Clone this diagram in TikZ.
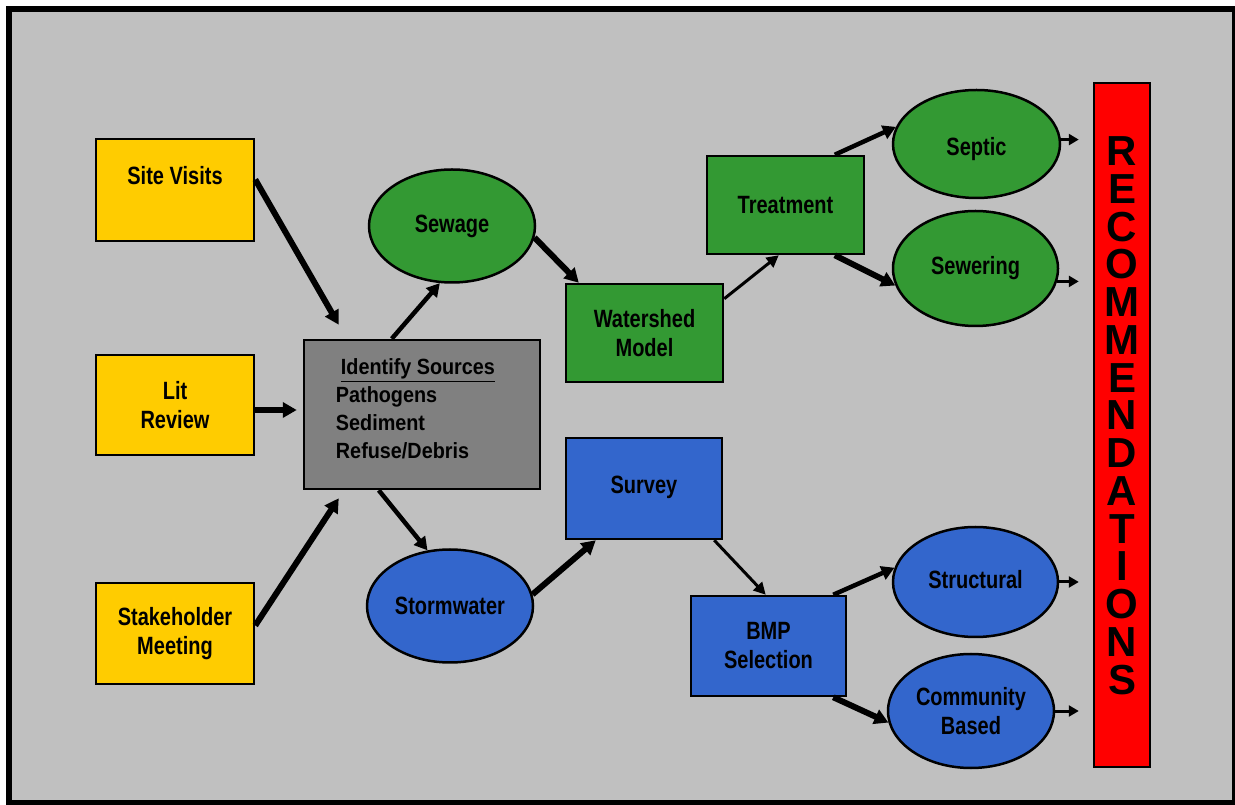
\documentclass[tikz,border=0pt]{standalone}
\usepackage{fontspec}
\setmainfont{Liberation Sans}
\newfontfamily\narf{Liberation Sans}[FakeStretch=0.8]
\newfontfamily\narid{Liberation Sans}[FakeStretch=0.9]
\usetikzlibrary{arrows.meta,shapes.geometric,calc}
\definecolor{bgc}{HTML}{C0C0C0}
\definecolor{yelc}{HTML}{FFCC00}
\definecolor{grnc}{HTML}{339933}
\definecolor{bluc}{HTML}{3366CC}
\definecolor{gryc}{HTML}{808080}
\definecolor{redc}{HTML}{FF0000}
\begin{document}
\begin{tikzpicture}[x=1pt,y=1pt,
  lbl/.style={font=\narf\bfseries\fontsize{25}{29}\selectfont, align=center},
  boxn/.style={lbl, draw=black, line width=2.5pt, rectangle, inner sep=0pt},
  elln/.style={lbl, draw=black, line width=2.5pt, ellipse, inner sep=0pt},
  arr/.style={line width=6pt, -{Triangle[length=14pt,width=15pt]}},
  arrm/.style={line width=4.5pt, -{Triangle[length=13pt,width=14pt]}},
  arrt/.style={line width=3pt, -{Triangle[length=12pt,width=12pt]}},
  arrs/.style={line width=3pt, -{Triangle[length=10pt,width=11pt]}},
  recl/.style={font={\bfseries\fontsize{42}{37.75}\selectfont\lineskiplimit=-100pt}, align=center, inner sep=0pt}
]
\useasboundingbox (0,0) rectangle (1235,804);
\fill[white] (0,0) rectangle (1235,804);
\draw[line width=6pt, fill=bgc] (9,1) rectangle (1235,795);

% yellow boxes
\node[boxn, fill=yelc, minimum width=158, minimum height=102, text depth=30pt] (sv) at (175,614) {Site Visits};
\node[boxn, fill=yelc, minimum width=158, minimum height=100] (lr) at (175,399) {Lit\\Review};
\node[boxn, fill=yelc, minimum width=158, minimum height=101] (sm) at (175,170.5) {Stakeholder\\Meeting};

% identify sources
\node[boxn, fill=gryc, minimum width=236, minimum height=149] (id) at (422,389.5) {};
\node[anchor=north west, align=left, inner sep=0pt, font=\narid\bfseries\fontsize{22}{28}\selectfont] (idt) at ([shift={(33,-20)}]id.north west)
  {\hspace*{5pt}\underline{Identify Sources}\\Pathogens\\Sediment\\Refuse/Debris};

% ellipses left
\node[elln, fill=grnc, minimum width=166, minimum height=113] (sew) at (452,578) {Sewage};
\node[elln, fill=bluc, minimum width=166, minimum height=113] (sto) at (450,198) {Stormwater};

% middle boxes
\node[boxn, fill=grnc, minimum width=157, minimum height=98] (wm) at (644.5,471) {Watershed\\Model};
\node[boxn, fill=grnc, minimum width=157, minimum height=98] (tr) at (785.5,599) {Treatment};
\node[boxn, fill=bluc, minimum width=156, minimum height=101, text depth=8pt] (sur) at (644,315.5) {Survey};
\node[boxn, fill=bluc, minimum width=155, minimum height=100] (bmp) at (768.5,158) {BMP\\Selection};

% right ellipses
\node[elln, fill=grnc, minimum width=167, minimum height=108, text depth=0pt] (sep) at (976.5,660) {\raisebox{-4pt}{Septic}};
\node[elln, fill=grnc, minimum width=165, minimum height=115] (swr) at (975.5,535.5) {\raisebox{4pt}{Sewering}};
\node[elln, fill=bluc, minimum width=165, minimum height=110] (str) at (975.5,222) {\raisebox{6pt}{Structural}};
\node[elln, fill=bluc, minimum width=166, minimum height=114] (com) at (971,93) {Community\\Based};

% recommendations bar
\node[draw=black, line width=2.5pt, fill=redc, minimum width=56, minimum height=684, inner sep=0pt] (rec) at (1122,379) {};
\node[recl] (rect) at (1122,388.25) {R\\E\\C\\O\\M\\M\\E\\N\\D\\A\\T\\I\\O\\N\\S};

% connectors
\draw[arr] ($(sv.north east)!0.4!(sv.south east)$) -- ([shift={(36,14)}]id.north west);
\draw[arr] ([yshift=-5]lr.east) -- ($(lr.east -| id.west)+(-6,-5)$);
\draw[arr] ([yshift=8]sm.east) -- ([shift={(36,-8)}]id.south west);
\draw[arrm] ([xshift=89]id.north west) -- (sew.-102);
\draw[arrm] ([xshift=76]id.south west) -- (sto.112);
\draw[arr] (sew.-8) -- ([xshift=14]wm.north west);
\draw[arrt] ([yshift=-16]wm.north east) -- ([xshift=73]tr.south west);
\draw[arrm] ([xshift=129]tr.north west) -- (sep.168);
\draw[arr] ([xshift=129]tr.south west) -- (swr.-168);
\draw[arrs] (sep.3) -- ($(sep.3 -| rec.west)+(-14,0)$);
\draw[arrs] (swr.-9) -- ($(swr.-9 -| rec.west)+(-14,0)$);
\draw[arrs] (str.0) -- ($(str.0 -| rec.west)+(-14,0)$);
\draw[arrs] (com.0) -- ($(com.0 -| rec.west)+(-14,0)$);
\draw[arr] (sto.8) -- ([xshift=31]sur.south west);
\draw[arrt] ([xshift=-9]sur.south east) -- ([xshift=76]bmp.north west);
\draw[arrm] ([xshift=-14]bmp.north east) -- (str.170);
\draw[arr] ([xshift=-14]bmp.south east) -- (com.-172);
\end{tikzpicture}
\end{document}
